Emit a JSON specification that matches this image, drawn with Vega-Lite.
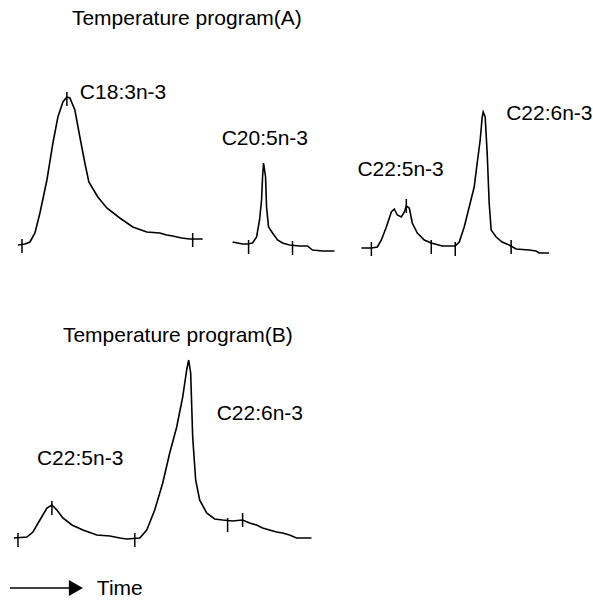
{
  "$schema": "https://vega.github.io/schema/vega-lite/v6.json",
  "width": 593,
  "height": 600,
  "autosize": {"type": "fit", "contains": "padding"},
  "padding": 0,
  "background": "white",
  "config": {"view": {"stroke": null}},
  "datasets": {
    "traces": [
      {"trace": "A1", "t": 18, "s": 355}, {"trace": "A1", "t": 25, "s": 356}, {"trace": "A1", "t": 30, "s": 358}, {"trace": "A1", "t": 35, "s": 367}, {"trace": "A1", "t": 40, "s": 387}, {"trace": "A1", "t": 47, "s": 420}, {"trace": "A1", "t": 53, "s": 457}, {"trace": "A1", "t": 58, "s": 483}, {"trace": "A1", "t": 63, "s": 498}, {"trace": "A1", "t": 67, "s": 503}, {"trace": "A1", "t": 70, "s": 502}, {"trace": "A1", "t": 75, "s": 490}, {"trace": "A1", "t": 80, "s": 463}, {"trace": "A1", "t": 85, "s": 437}, {"trace": "A1", "t": 89, "s": 418}, {"trace": "A1", "t": 98, "s": 403}, {"trace": "A1", "t": 107, "s": 392}, {"trace": "A1", "t": 120, "s": 382}, {"trace": "A1", "t": 133, "s": 373}, {"trace": "A1", "t": 147, "s": 368}, {"trace": "A1", "t": 160, "s": 367}, {"trace": "A1", "t": 167, "s": 365}, {"trace": "A1", "t": 173, "s": 364}, {"trace": "A1", "t": 182, "s": 362}, {"trace": "A1", "t": 190, "s": 361}, {"trace": "A1", "t": 203, "s": 361},
      {"trace": "A2", "t": 233, "s": 358}, {"trace": "A2", "t": 238, "s": 357}, {"trace": "A2", "t": 243, "s": 356}, {"trace": "A2", "t": 248, "s": 356}, {"trace": "A2", "t": 253, "s": 357}, {"trace": "A2", "t": 257, "s": 363}, {"trace": "A2", "t": 260, "s": 380}, {"trace": "A2", "t": 262, "s": 400}, {"trace": "A2", "t": 263, "s": 423}, {"trace": "A2", "t": 264, "s": 437}, {"trace": "A2", "t": 266, "s": 423}, {"trace": "A2", "t": 267, "s": 393}, {"trace": "A2", "t": 269, "s": 373}, {"trace": "A2", "t": 273, "s": 367}, {"trace": "A2", "t": 278, "s": 360}, {"trace": "A2", "t": 283, "s": 357}, {"trace": "A2", "t": 290, "s": 355}, {"trace": "A2", "t": 300, "s": 354}, {"trace": "A2", "t": 308, "s": 354}, {"trace": "A2", "t": 313, "s": 350}, {"trace": "A2", "t": 323, "s": 349}, {"trace": "A2", "t": 335, "s": 349},
      {"trace": "A3", "t": 362, "s": 352}, {"trace": "A3", "t": 372, "s": 352}, {"trace": "A3", "t": 378, "s": 353}, {"trace": "A3", "t": 382, "s": 360}, {"trace": "A3", "t": 387, "s": 373}, {"trace": "A3", "t": 392, "s": 388}, {"trace": "A3", "t": 395, "s": 391}, {"trace": "A3", "t": 398, "s": 385}, {"trace": "A3", "t": 402, "s": 383}, {"trace": "A3", "t": 405, "s": 388}, {"trace": "A3", "t": 407, "s": 394}, {"trace": "A3", "t": 410, "s": 392}, {"trace": "A3", "t": 413, "s": 377}, {"trace": "A3", "t": 418, "s": 367}, {"trace": "A3", "t": 425, "s": 360}, {"trace": "A3", "t": 432, "s": 357}, {"trace": "A3", "t": 443, "s": 354}, {"trace": "A3", "t": 456, "s": 354}, {"trace": "A3", "t": 460, "s": 358}, {"trace": "A3", "t": 465, "s": 373}, {"trace": "A3", "t": 470, "s": 393}, {"trace": "A3", "t": 475, "s": 413}, {"trace": "A3", "t": 478, "s": 437}, {"trace": "A3", "t": 481, "s": 460}, {"trace": "A3", "t": 483, "s": 483}, {"trace": "A3", "t": 484, "s": 488}, {"trace": "A3", "t": 486, "s": 483}, {"trace": "A3", "t": 488, "s": 447}, {"trace": "A3", "t": 490, "s": 397}, {"trace": "A3", "t": 492, "s": 370}, {"trace": "A3", "t": 497, "s": 363}, {"trace": "A3", "t": 503, "s": 358}, {"trace": "A3", "t": 510, "s": 355}, {"trace": "A3", "t": 517, "s": 351}, {"trace": "A3", "t": 530, "s": 350}, {"trace": "A3", "t": 537, "s": 349}, {"trace": "A3", "t": 540, "s": 347}, {"trace": "A3", "t": 550, "s": 347},
      {"trace": "B", "t": 14, "s": 62}, {"trace": "B", "t": 27, "s": 63}, {"trace": "B", "t": 33, "s": 68}, {"trace": "B", "t": 40, "s": 80}, {"trace": "B", "t": 47, "s": 92}, {"trace": "B", "t": 52, "s": 95}, {"trace": "B", "t": 57, "s": 90}, {"trace": "B", "t": 63, "s": 82}, {"trace": "B", "t": 72, "s": 75}, {"trace": "B", "t": 83, "s": 70}, {"trace": "B", "t": 97, "s": 65}, {"trace": "B", "t": 110, "s": 64}, {"trace": "B", "t": 120, "s": 62}, {"trace": "B", "t": 127, "s": 61}, {"trace": "B", "t": 140, "s": 62}, {"trace": "B", "t": 147, "s": 70}, {"trace": "B", "t": 155, "s": 90}, {"trace": "B", "t": 163, "s": 117}, {"trace": "B", "t": 170, "s": 147}, {"trace": "B", "t": 177, "s": 173}, {"trace": "B", "t": 183, "s": 203}, {"trace": "B", "t": 187, "s": 230}, {"trace": "B", "t": 189, "s": 240}, {"trace": "B", "t": 191, "s": 227}, {"trace": "B", "t": 193, "s": 163}, {"trace": "B", "t": 196, "s": 120}, {"trace": "B", "t": 200, "s": 100}, {"trace": "B", "t": 207, "s": 87}, {"trace": "B", "t": 215, "s": 81}, {"trace": "B", "t": 223, "s": 80}, {"trace": "B", "t": 233, "s": 79}, {"trace": "B", "t": 243, "s": 80}, {"trace": "B", "t": 250, "s": 77}, {"trace": "B", "t": 257, "s": 75}, {"trace": "B", "t": 263, "s": 72}, {"trace": "B", "t": 270, "s": 70}, {"trace": "B", "t": 277, "s": 68}, {"trace": "B", "t": 283, "s": 67}, {"trace": "B", "t": 290, "s": 65}, {"trace": "B", "t": 297, "s": 62}, {"trace": "B", "t": 303, "s": 62}, {"trace": "B", "t": 312, "s": 62},
      {"trace": "arrow", "t": 10, "s": 12}, {"trace": "arrow", "t": 70, "s": 12}
    ],
    "marks": [
      {"t": 22, "s": 354}, {"t": 67, "s": 501}, {"t": 193, "s": 360},
      {"t": 249, "s": 353}, {"t": 293, "s": 352},
      {"t": 372, "s": 351}, {"t": 407, "s": 394}, {"t": 432, "s": 353}, {"t": 456, "s": 351}, {"t": 512, "s": 353},
      {"t": 18, "s": 60}, {"t": 52, "s": 92}, {"t": 135, "s": 60}, {"t": 228, "s": 75}, {"t": 243, "s": 80}
    ],
    "labels": [
      {"t": 72, "s": 575, "label": "Temperature program(A)"},
      {"t": 80, "s": 501, "label": "C18:3n-3"},
      {"t": 222, "s": 455, "label": "C20:5n-3"},
      {"t": 358, "s": 424, "label": "C22:5n-3"},
      {"t": 507, "s": 480, "label": "C22:6n-3"},
      {"t": 63, "s": 258, "label": "Temperature program(B)"},
      {"t": 37, "s": 135, "label": "C22:5n-3"},
      {"t": 217, "s": 180, "label": "C22:6n-3"},
      {"t": 97, "s": 5, "label": "Time"}
    ],
    "arrowhead": [{"t": 76, "s": 12}]
  },
  "encoding": {
    "x": {"field": "t", "type": "quantitative", "axis": null, "scale": {"domain": [0, 593], "nice": false, "zero": false}},
    "y": {"field": "s", "type": "quantitative", "axis": null, "scale": {"domain": [0, 600], "nice": false, "zero": false}}
  },
  "layer": [
    {
      "data": {"name": "traces"},
      "mark": {"type": "line", "color": "black", "strokeWidth": 1.6, "interpolate": "linear"},
      "encoding": {"detail": {"field": "trace", "type": "nominal"}}
    },
    {
      "data": {"name": "marks"},
      "mark": {"type": "tick", "orient": "vertical", "color": "black", "thickness": 1.5, "size": 14, "opacity": 1}
    },
    {
      "data": {"name": "arrowhead"},
      "mark": {"type": "point", "shape": "triangle-right", "filled": true, "color": "black", "size": 260, "opacity": 1}
    },
    {
      "data": {"name": "labels"},
      "mark": {"type": "text", "align": "left", "baseline": "alphabetic", "font": "Liberation Sans", "fontSize": 21, "color": "black"},
      "encoding": {"text": {"field": "label", "type": "nominal"}}
    }
  ]
}
